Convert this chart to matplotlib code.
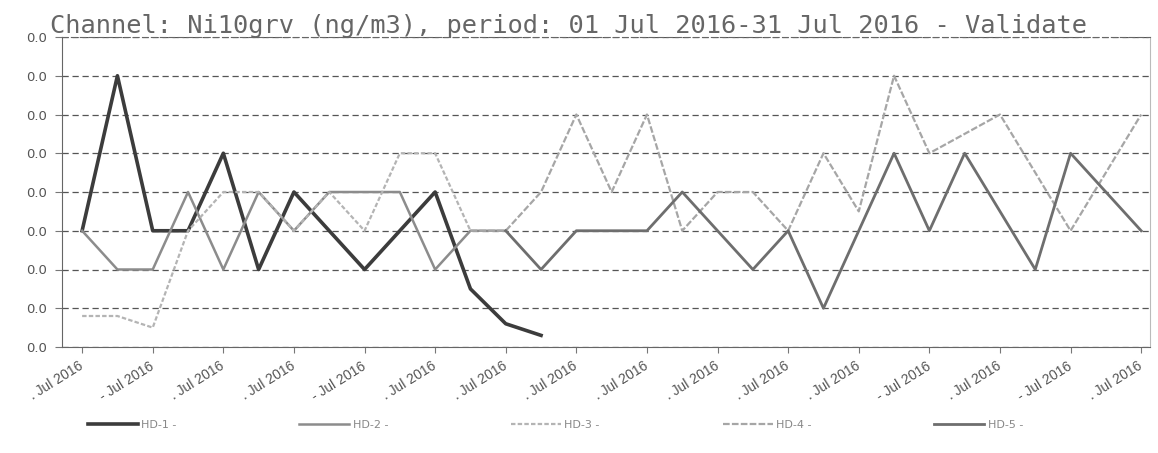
import numpy as np
import matplotlib
matplotlib.use('Agg')
import matplotlib.pyplot as plt

figsize = (11.58, 4.53)
dpi = 100

nan = np.nan
days = np.arange(1, 32)

hd1 = [3, 7, 3, 3, 5, 2, 4, 3, 2, 3, 4, 1.5, 0.6, 0.3] + [nan] * 17
hd2 = [3, 2, 2, 4, 2, 4, 3, 4, 4, 4, 2, 3, 3] + [nan] * 18
hd3 = [0.8, 0.8, 0.5, 3, 4, 4, 3, 4, 3, 5, 5, 3] + [nan] * 19
hd4 = [nan] * 11 + [3, 3, 4, 6, 4, 6, 3, 4, 4, 3, 5, 3.5, 7, 5, 5.5, 6, 4.5, 3, 4.5, 6]
hd5 = [nan] * 12 + [3, 2, 3, 3, 3, 4, 3, 2, 3, 1, 3, 5, 3, 5, 3.5, 2, 5, 4, 3]

series_names = ['HD-1 -', 'HD-2 -', 'HD-3 -', 'HD-4 -', 'HD-5 -']

tick_days = days[::2]
tick_prefix = ['.', '-', '.', '.', '-', '.', '.', '.', '.', '.', '.', '.', '-', '.', '-', '.']
tick_labels = [p + ' Jul 2016' for p in tick_prefix]

title = 'Channel: Ni10grv (ng/m3), period: 01 Jul 2016-31 Jul 2016 - Validate'

fig = plt.figure(figsize=figsize, dpi=dpi)
ax = fig.add_axes([62 / 1158, 106 / 453, 1088 / 1158, 310 / 453])

ax.plot(days, hd1, color='#3c3c3c', lw=2.6, label=series_names[0])
ax.plot(days, hd2, color='#8c8c8c', lw=1.8, label=series_names[1])
ax.plot(days, hd3, color='#b4b4b4', lw=1.6, ls=(0, (2, 1)), label=series_names[2])
ax.plot(days, hd4, color='#a6a6a6', lw=1.6, ls=(0, (3, 1)), label=series_names[3])
ax.plot(days, hd5, color='#6e6e6e', lw=2.0, label=series_names[4])

ax.set_xlim(0.43, 31.25)
ax.set_ylim(0, 8)
ax.set_yticks(np.arange(0, 9))
ax.set_yticklabels(['0.0'] * 9, fontsize=9.5, color='#555555')
ax.set_xticks(tick_days)
ax.set_xticklabels(tick_labels, fontsize=10, color='#555555', family='Liberation Sans',
                   rotation=32, ha='right', va='center', rotation_mode='anchor')
ax.tick_params(axis='x', pad=9, length=4, color='#777777')
ax.tick_params(axis='y', pad=6, length=5, color='#777777')

ax.grid(axis='y', color='#555555', ls=(0, (5, 3)), lw=0.9)
ax.set_axisbelow(True)
for side in ['left', 'bottom', 'top']:
    ax.spines[side].set_color('#666666')
ax.spines['right'].set_color('#bbbbbb')
ax.spines['top'].set_linestyle((0, (5, 3)))

fig.text(50 / 1158, 1 - 33 / 453, title, fontsize=18.3, family='DejaVu Sans Mono',
         color='#666666', va='baseline')

leg = fig.legend(loc='center left', bbox_to_anchor=(88 / 1158, 28 / 453), ncol=5,
                 frameon=False, fontsize=8, handlelength=4.5, columnspacing=11.05,
                 borderpad=0, borderaxespad=0, handletextpad=0.3)
for t in leg.get_texts():
    t.set_color('#888888')

plt.savefig('out.png', dpi=dpi)
